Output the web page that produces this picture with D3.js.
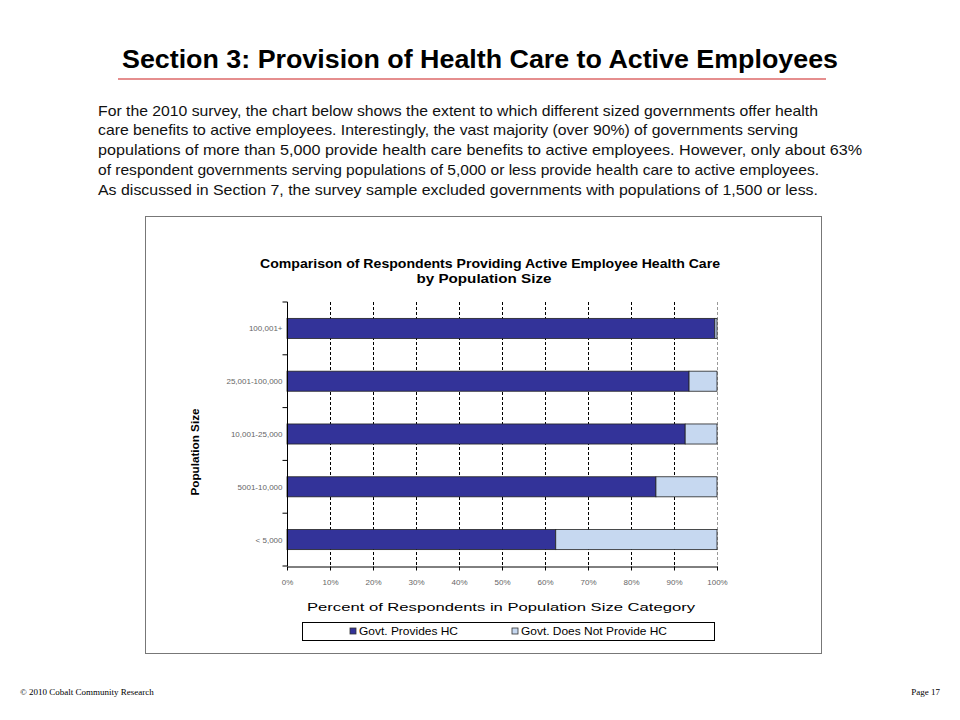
<!DOCTYPE html>
<html>
<head>
<meta charset="utf-8">
<script src="https://cdn.jsdelivr.net/npm/d3@7"></script>
<style>
  body { margin: 0; background: #fff; }
  svg { display: block; }
</style>
</head>
<body>
<div id="chart"></div>
<script>
(function() {
    'use strict';

    // data
    var categories = ["100,001+", "25,001-100,000", "10,001-25,000", "5001-10,000", "< 5,000"];
    var provides = [99.5, 93.5, 92.6, 85.8, 62.5];
    var notProvides = provides.map(function(v) { return 100 - v; });
    var seriesNames = ["Govt. Provides HC", "Govt. Does Not Provide HC"];
    var xTicks = [0, 10, 20, 30, 40, 50, 60, 70, 80, 90, 100];
    var paragraph = [
        "For the 2010 survey, the chart below shows the extent to which different sized governments offer health",
        "care benefits to active employees.  Interestingly, the vast majority (over 90%) of governments serving",
        "populations of more than 5,000 provide health care benefits to active employees.  However, only about 63%",
        "of respondent governments serving populations of 5,000 or less provide health care to active employees.",
        "As discussed in Section 7, the survey sample excluded governments with populations of 1,500 or less."
    ];
    var lineWidths = [720, 700, 764, 721, 720];

    var colors = ["#333399", "#c6d8f0"];

    var svg = d3.select("#chart").append("svg")
        .attr("width", 960)
        .attr("height", 720);

    // page heading
    svg.append("text")
        .attr("x", 480).attr("y", 68)
        .attr("text-anchor", "middle")
        .style("font-family", "'Liberation Sans', Arial, sans-serif")
        .style("font-weight", "bold")
        .style("font-size", "25px")
        .attr("textLength", 716).attr("lengthAdjust", "spacingAndGlyphs")
        .text("Section 3: Provision of Health Care to Active Employees");

    svg.append("line")
        .attr("x1", 118).attr("x2", 826)
        .attr("y1", 79).attr("y2", 79)
        .style("stroke", "#cc1f1f")
        .style("stroke-width", 1.2);

    svg.append("g").selectAll("text")
        .data(paragraph)
        .enter().append("text")
        .attr("x", 98)
        .attr("y", function(d, i) { return 115.5 + i * 19.8; })
        .attr("textLength", function(d, i) { return lineWidths[i]; })
        .attr("lengthAdjust", "spacingAndGlyphs")
        .style("font-family", "'Liberation Sans', Arial, sans-serif")
        .style("font-size", "15px")
        .style("fill", "#111")
        .text(function(d) { return d; });

    // chart frame
    svg.append("rect")
        .attr("x", 145.5).attr("y", 216.5)
        .attr("width", 676).attr("height", 437)
        .style("fill", "#fff")
        .style("stroke", "#777")
        .style("stroke-width", 1);

    var chartFont = "'Liberation Sans', Arial, sans-serif";

    svg.append("text")
        .attr("x", 490).attr("y", 268)
        .attr("text-anchor", "middle")
        .attr("textLength", 460).attr("lengthAdjust", "spacingAndGlyphs")
        .style("font-family", chartFont).style("font-weight", "bold")
        .style("font-size", "12px")
        .text("Comparison of Respondents Providing Active Employee Health Care");
    svg.append("text")
        .attr("x", 484).attr("y", 283)
        .attr("text-anchor", "middle")
        .attr("textLength", 135).attr("lengthAdjust", "spacingAndGlyphs")
        .style("font-family", chartFont).style("font-weight", "bold")
        .style("font-size", "12px")
        .text("by Population Size");

    var margin = {top: 302, left: 287},
        width = 430,
        height = 264;

    var x = d3.scaleLinear().domain([0, 100]).range([0, width]);
    var y = d3.scaleBand().domain(categories).range([0, height]).paddingInner(0.62).paddingOuter(0.31);
    var yb = d3.scaleBand().domain(categories).range([0, height]);

    var g = svg.append("g")
        .attr("transform", "translate(" + margin.left + "," + margin.top + ")");

    // grid lines
    g.append("g").selectAll("line")
        .data(xTicks.slice(1))
        .enter().append("line")
        .attr("x1", function(d) { return x(d) + 0.5; })
        .attr("x2", function(d) { return x(d) + 0.5; })
        .attr("y1", 0).attr("y2", height)
        .style("stroke", function(d) { return d === 100 ? "#999" : "#000"; })
        .style("stroke-width", 1)
        .style("stroke-dasharray", "3,2");

    var stackData = categories.map(function(c, i) {
        return {cat: c, vals: [[0, provides[i]], [provides[i], provides[i] + notProvides[i]]]};
    });

    var rows = g.selectAll(".row")
        .data(stackData)
        .enter().append("g")
        .attr("class", "row")
        .attr("transform", function(d) { return "translate(0," + y(d.cat) + ")"; });

    rows.selectAll("rect")
        .data(function(d) { return d.vals; })
        .enter().append("rect")
        .attr("x", function(d) { return x(d[0]); })
        .attr("width", function(d) { return x(d[1]) - x(d[0]); })
        .attr("y", 0)
        .attr("height", y.bandwidth())
        .style("fill", function(d, i) { return colors[i]; })
        .style("stroke", "#222")
        .style("stroke-width", 0.8);

    // y axis
    var yAxis = g.append("g")
        .attr("transform", "translate(0.5,0)");
    yAxis.append("line")
        .attr("y1", 0).attr("y2", height)
        .style("stroke", "#000");
    yAxis.selectAll(".tk")
        .data(categories.concat(["end"]))
        .enter().append("line")
        .attr("x1", -5).attr("x2", 0)
        .attr("y1", function(d, i) { return i * yb.bandwidth(); })
        .attr("y2", function(d, i) { return i * yb.bandwidth(); })
        .style("stroke", "#000");
    yAxis.selectAll(".lbl")
        .data(categories)
        .enter().append("text")
        .attr("x", -5)
        .attr("y", function(d) { return y(d) + y.bandwidth() / 2 + 3; })
        .attr("text-anchor", "end")
        .style("font-family", chartFont)
        .style("font-size", "8px")
        .style("fill", "#666")
        .text(function(d) { return d; });

    // x axis
    var xAxis = g.append("g")
        .attr("transform", "translate(0," + (height + 0.5) + ")")
        .call(d3.axisBottom(x).tickValues(xTicks).tickSize(4).tickSizeOuter(0)
            .tickFormat(function(d) { return d + "%"; }));
    xAxis.select(".domain").style("stroke", "#000");
    xAxis.selectAll(".tick line").style("stroke", "#000");
    xAxis.selectAll(".tick text")
        .attr("y", 13)
        .style("font-family", chartFont)
        .style("font-size", "8px")
        .style("fill", "#666");

    svg.append("text")
        .attr("x", 501).attr("y", 611)
        .attr("text-anchor", "middle")
        .attr("textLength", 388).attr("lengthAdjust", "spacingAndGlyphs")
        .style("font-family", chartFont).style("font-size", "11px")
        .text("Percent of Respondents in Population Size Category");

    svg.append("text")
        .attr("transform", "translate(199,452) rotate(-90)")
        .attr("text-anchor", "middle")
        .attr("textLength", 87).attr("lengthAdjust", "spacingAndGlyphs")
        .style("font-family", chartFont).style("font-weight", "bold")
        .style("font-size", "11px")
        .text("Population Size");

    // legend
    var legend = svg.append("g");
    legend.append("rect")
        .attr("x", 302.5).attr("y", 622.5)
        .attr("width", 412).attr("height", 18)
        .style("fill", "#fff").style("stroke", "#000");
    var legX = [350, 512];
    var legW = [99, 146];
    var items = legend.selectAll(".item")
        .data(seriesNames)
        .enter().append("g")
        .attr("transform", function(d, i) { return "translate(" + legX[i] + ",628)"; });
    items.append("rect")
        .attr("width", 6).attr("height", 6)
        .style("fill", function(d, i) { return colors[i]; })
        .style("stroke", "#333").style("stroke-width", 0.8);
    items.append("text")
        .attr("x", 9).attr("y", 7)
        .attr("textLength", function(d, i) { return legW[i]; })
        .attr("lengthAdjust", "spacingAndGlyphs")
        .style("font-family", chartFont).style("font-size", "10.5px")
        .text(function(d) { return d; });

    // footer
    svg.append("text")
        .attr("x", 20).attr("y", 695)
        .style("font-family", "'Liberation Serif', 'DejaVu Serif', serif")
        .style("font-size", "9px")
        .text("\u00a9 2010 Cobalt Community Research");
    svg.append("text")
        .attr("x", 940).attr("y", 695)
        .attr("text-anchor", "end")
        .style("font-family", "'Liberation Serif', 'DejaVu Serif', serif")
        .style("font-size", "9px")
        .text("Page 17");
})();
</script>
</body>
</html>
